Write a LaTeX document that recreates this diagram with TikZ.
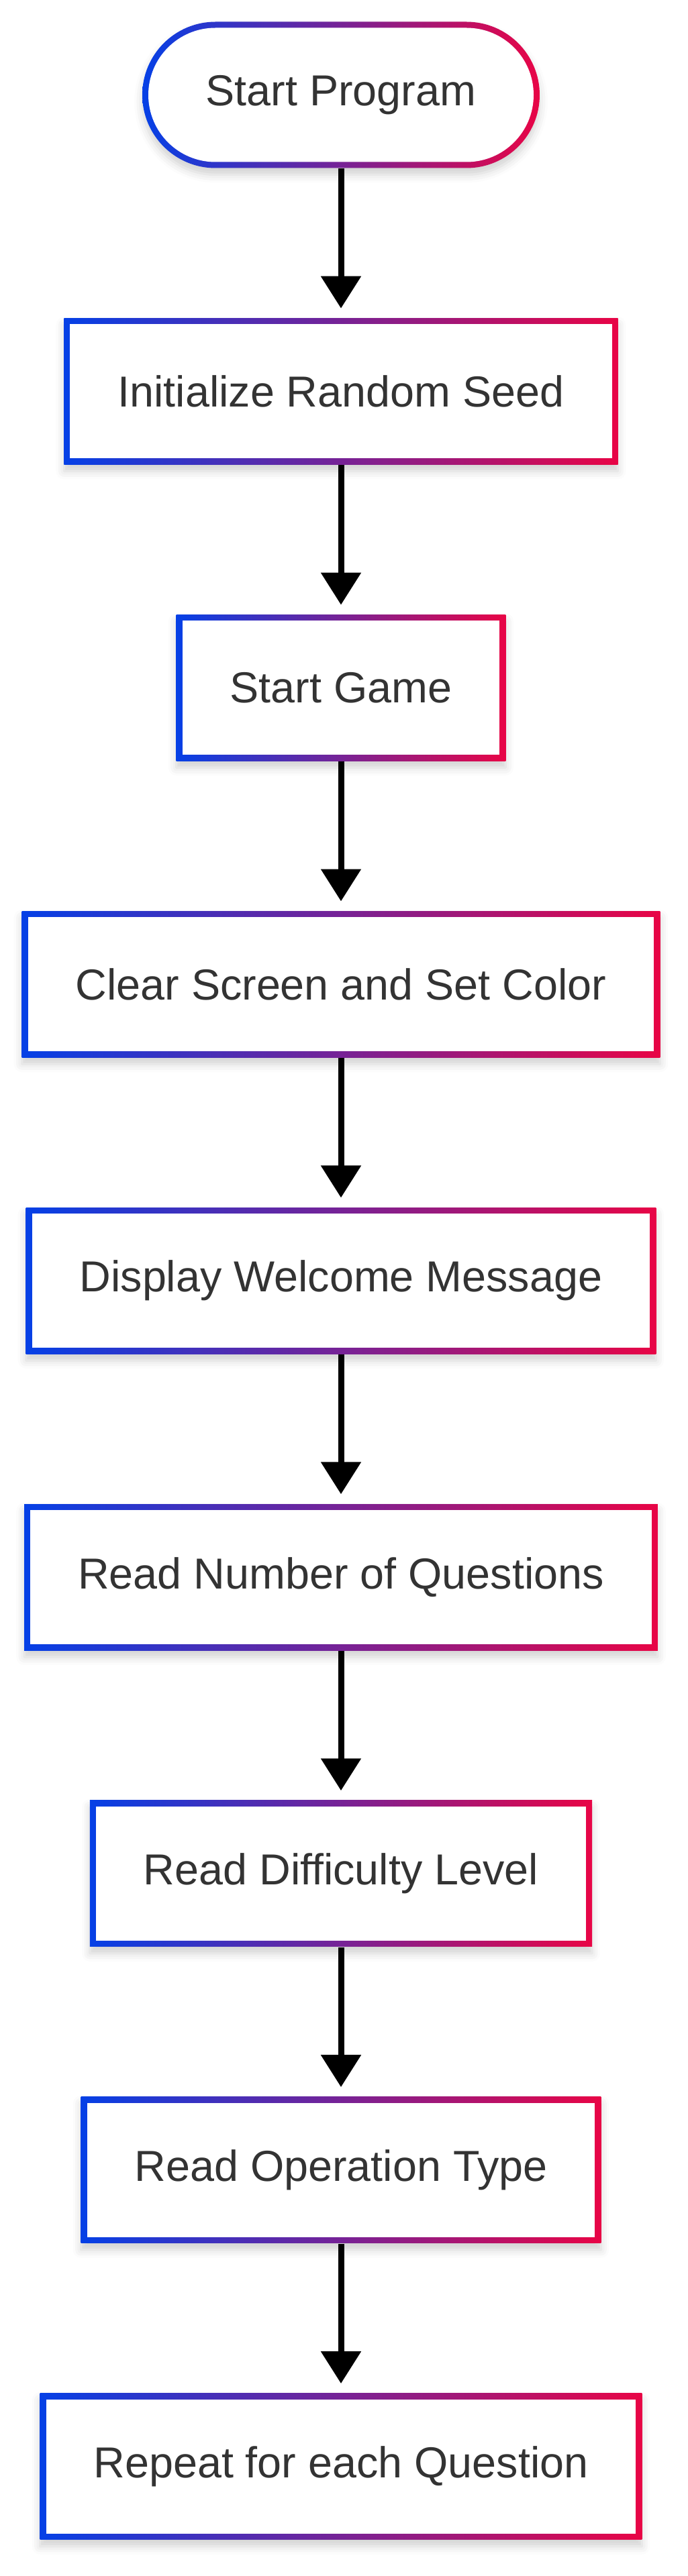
\documentclass[tikz,border=0pt]{standalone}
\usepackage{fontspec}
\setmainfont{Liberation Sans}
\usetikzlibrary{positioning,arrows.meta,shadows.blur}
\definecolor{gbl}{RGB}{5,64,230}
\definecolor{grd}{RGB}{232,5,70}
\definecolor{txt}{RGB}{51,51,51}

\tikzset{
    softshadow/.style={
        blur shadow={shadow xshift=0cm, shadow yshift=-0.1cm,
            shadow blur radius=0.12cm, shadow opacity=18}
    },
    stepbox/.style={
        rectangle, minimum height=2.18cm, inner xsep=0.80cm,
        left color=gbl, right color=grd,
        text=txt, font=\fontsize{18.4}{22}\selectfont,
        softshadow,
        path picture={
            \fill[white]
                ([shift={(0.09,0.09)}]path picture bounding box.south west)
                rectangle
                ([shift={(-0.09,-0.09)}]path picture bounding box.north east);
        }
    },
    termbox/.style={
        stepbox, minimum width=5.92cm, rounded corners=1.09cm,
        path picture={
            \fill[white, rounded corners=1.0cm]
                ([shift={(0.09,0.09)}]path picture bounding box.south west)
                rectangle
                ([shift={(-0.09,-0.09)}]path picture bounding box.north east);
        }
    },
    flow/.style={
        line width=0.09cm, shorten >=0.14cm,
        -{Triangle[width=0.58cm,length=0.48cm]}
    }
}

\begin{document}
\begin{tikzpicture}[
        node distance=2.225cm
    ]
    \useasboundingbox (0,0) rectangle (10.25,-38.4);
    \node[termbox] (start) at (5.08,-1.415) {Start Program};
    \node[stepbox, below=of start] (seed) {Initialize Random Seed};
    \node[stepbox, below=of seed] (game) {Start Game};
    \node[stepbox, below=of game] (clear) {Clear Screen and Set Color};
    \node[stepbox, below=of clear] (welcome) {Display Welcome Message};
    \node[stepbox, below=of welcome] (numq) {Read Number of Questions};
    \node[stepbox, below=of numq] (level) {Read Difficulty Level};
    \node[stepbox, below=of level] (optype) {Read Operation Type};
    \node[stepbox, below=of optype] (repeat) {Repeat for each Question};

    \foreach \a/\b in {start/seed, seed/game, game/clear, clear/welcome,
            welcome/numq, numq/level, level/optype, optype/repeat}
        \draw[flow] (\a) -- (\b);
\end{tikzpicture}
\end{document}
